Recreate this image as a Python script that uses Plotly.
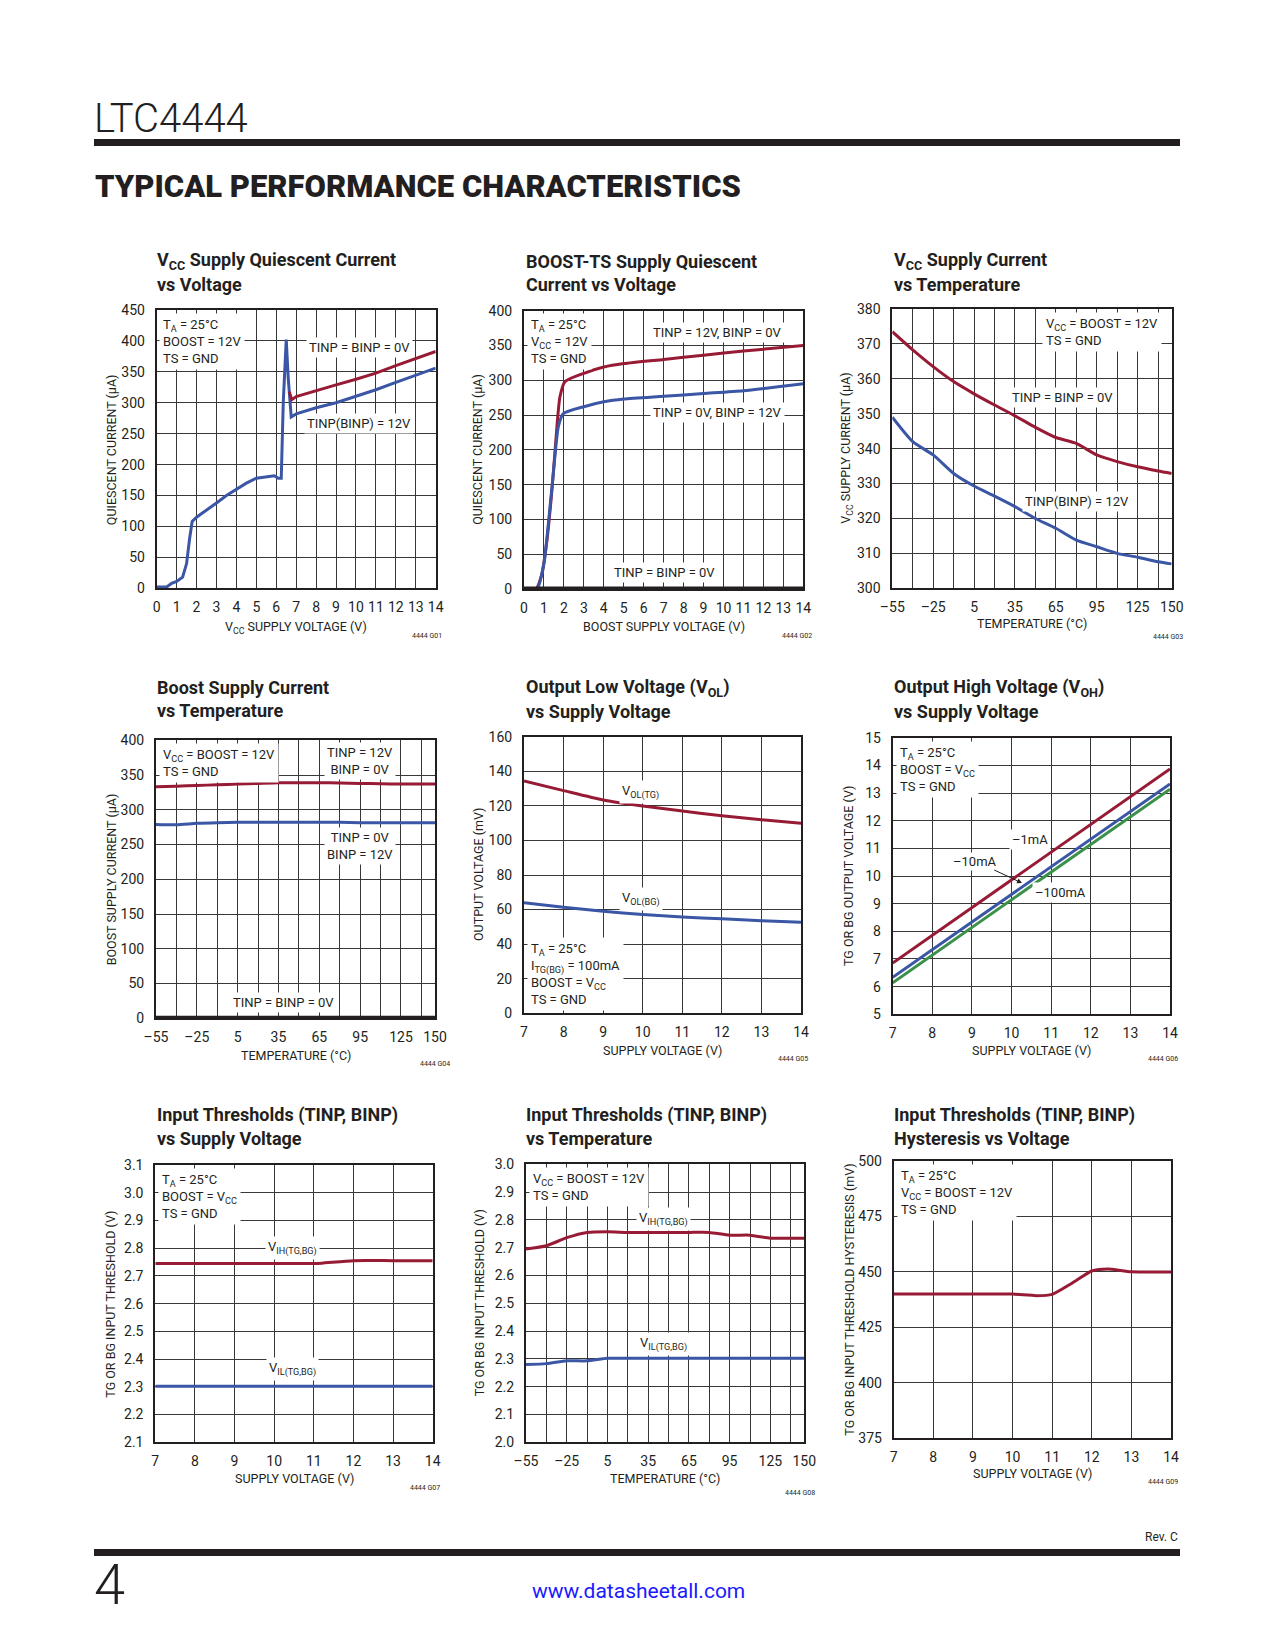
import plotly.graph_objects as go

W, H = 1275, 1650

# ---------------- data ----------------
# G01 VCC supply quiescent current vs voltage
g01_x_blue = [0, 0.5, 0.75, 1.0, 1.3, 1.5, 1.65, 1.78, 2.0, 2.5, 3.0, 3.5, 4.0, 4.5, 5.0, 5.5, 5.9, 6.1, 6.25, 6.35, 6.5, 6.6, 6.75, 7.0, 8.0, 9.0, 10.0, 11.0, 12.0, 13.0, 14.0]
g01_y_blue = [2, 2, 8, 11, 18, 40, 80, 108, 115, 126, 138, 150, 160, 170, 178, 180, 182, 178, 178, 300, 402, 340, 277, 282, 292, 300, 310, 321, 333, 344, 356]
g01_x_red = [6.65, 6.78, 7.0, 8.0, 9.0, 10.0, 11.0, 12.0, 13.0, 14.0]
g01_y_red = [318, 305, 310, 320, 329, 338, 348, 360, 371, 383]

# G02 BOOST-TS supply quiescent current vs voltage
g02_x_red = [0, 0.6, 0.9, 1.15, 1.4, 1.65, 1.8, 2.05, 3, 4, 5, 7, 9, 11, 14]
g02_y_red = [0, 0, 22, 70, 142, 233, 276, 298, 310, 319, 324, 330, 336, 342, 350]
g02_x_blue = [0, 0.65, 1.0, 1.22, 1.47, 1.72, 1.97, 3, 4, 5, 7, 9, 11, 14]
g02_y_blue = [0, 0, 37, 94, 166, 233, 252, 262, 269, 273, 277, 281, 285, 295]
g02_x_zero = [0, 14]
g02_y_zero = [0, 0]

# temperature axis
temp = [-55, -40, -25, -10, 5, 20, 35, 50, 65, 80, 95, 110, 125, 140, 150]
temp_ticks = [-55, -25, 5, 35, 65, 95, 125, 150]
temp_labels = ["–55", "–25", "5", "35", "65", "95", "125", "150"]

# G03 VCC supply current vs temperature
g03_red = [373.5, 368.3, 363.5, 359.2, 355.7, 352.5, 349.4, 346.1, 343.2, 341.5, 338.2, 336.3, 334.8, 333.6, 332.9]
g03_blue = [349, 342, 338.2, 332.9, 329.3, 326.4, 323.4, 320, 317.2, 313.8, 311.9, 310, 308.9, 307.6, 307]

# G04 Boost supply current vs temperature
g04_red = [333, 334, 335, 336, 337, 338, 339, 339, 339, 338.5, 338, 337.5, 337, 337, 337]
g04_blue = [279, 278.5, 280.5, 281.5, 282, 282, 282, 282, 282, 282, 281.5, 281.5, 281.5, 281.5, 281.5]
g04_zero = [0] * 15

# supply voltage axis
vs = [7, 8, 9, 10, 11, 12, 13, 14]

# G05 VOL vs supply voltage
g05_tg = [134.4, 128.8, 123.4, 119.9, 117.0, 114.3, 112.0, 109.9]
g05_bg = [64.0, 61.3, 59.0, 57.1, 55.7, 54.7, 53.6, 52.6]

# G06 VOH vs supply voltage
g06_1ma = [6.85, 7.85, 8.85, 9.85, 10.85, 11.85, 12.85, 13.87]
g06_10ma = [6.34, 7.34, 8.33, 9.33, 10.33, 11.33, 12.33, 13.33]
g06_100ma = [6.14, 7.14, 8.13, 9.13, 10.13, 11.13, 12.13, 13.14]

# G07 input thresholds vs supply voltage
g07_x_vih = [7, 8, 9, 10, 11, 11.2, 12, 13, 14]
g07_vih = [2.745, 2.745, 2.745, 2.745, 2.745, 2.746, 2.755, 2.755, 2.755]
g07_vil = [2.302, 2.302, 2.302, 2.302, 2.302, 2.302, 2.302, 2.302]

# G08 input thresholds vs temperature
g08_vih = [2.695, 2.707, 2.736, 2.755, 2.757, 2.755, 2.755, 2.755, 2.755, 2.755, 2.745, 2.745, 2.734, 2.734, 2.734]
g08_vil = [2.280, 2.283, 2.293, 2.293, 2.302, 2.302, 2.302, 2.302, 2.302, 2.302, 2.302, 2.302, 2.302, 2.302, 2.302]

# G09 hysteresis vs voltage
g09_x = [7, 8, 9, 10, 10.6, 11, 11.5, 12, 12.4, 13, 14]
g09_y = [440, 440, 440, 440, 439.3, 439.9, 444.9, 450.4, 451.3, 450.1, 450]

# tick values
v14_ticks = list(range(0, 15))
v7_ticks = [7, 8, 9, 10, 11, 12, 13, 14]
y01_ticks = [0, 50, 100, 150, 200, 250, 300, 350, 400, 450]
y02_ticks = [0, 50, 100, 150, 200, 250, 300, 350, 400]
y03_ticks = [300, 310, 320, 330, 340, 350, 360, 370, 380]
y05_ticks = [0, 20, 40, 60, 80, 100, 120, 140, 160]
y06_ticks = [5, 6, 7, 8, 9, 10, 11, 12, 13, 14, 15]
y07_ticks = [2.1, 2.2, 2.3, 2.4, 2.5, 2.6, 2.7, 2.8, 2.9, 3.0, 3.1]
y08_ticks = [2.0, 2.1, 2.2, 2.3, 2.4, 2.5, 2.6, 2.7, 2.8, 2.9, 3.0]
y09_ticks = [375, 400, 425, 450, 475, 500]

# ---------------- styling ----------------
FONT = "Roboto, Liberation Sans, sans-serif"
INK = "#231f20"
RED = "#981b36"
BLUE = "#3a56a5"
GREEN = "#3b9149"
GRID = "#383838"
LW = 3

fig = go.Figure()


def px_x(p):
    return p / W


def px_y(p):
    return 1 - p / H


panels = [
    dict(box=(156.7, 435.7, 310, 588.3), xr=[0, 14], xt=v14_ticks, xl=None, minor=None, yr=[0, 450], yt=y01_ticks, yfmt="{:g}"),
    dict(box=(524, 803.3, 310.7, 589), xr=[0, 14], xt=v14_ticks, xl=None, minor=None, yr=[0, 400], yt=y02_ticks, yfmt="{:g}"),
    dict(box=(892.3, 1171.7, 309, 588.3), xr=[-55, 150], xt=temp_ticks, xl=temp_labels, minor=temp, yr=[300, 380], yt=y03_ticks, yfmt="{:g}"),
    dict(box=(156, 435, 740.3, 1018.3), xr=[-55, 150], xt=temp_ticks, xl=temp_labels, minor=temp, yr=[0, 400], yt=y02_ticks, yfmt="{:g}"),
    dict(box=(524, 801, 736.7, 1013.3), xr=[7, 14], xt=v7_ticks, xl=None, minor=None, yr=[0, 160], yt=y05_ticks, yfmt="{:g}"),
    dict(box=(892.7, 1170, 737.7, 1014.3), xr=[7, 14], xt=v7_ticks, xl=None, minor=None, yr=[5, 15], yt=y06_ticks, yfmt="{:g}"),
    dict(box=(155.3, 432.7, 1165, 1442.3), xr=[7, 14], xt=v7_ticks, xl=None, minor=None, yr=[2.1, 3.1], yt=y07_ticks, yfmt="{:.1f}"),
    dict(box=(526, 804.3, 1164.3, 1442.3), xr=[-55, 150], xt=temp_ticks, xl=temp_labels, minor=temp, yr=[2.0, 3.0], yt=y08_ticks, yfmt="{:.1f}"),
    dict(box=(893.7, 1171, 1161, 1438.3), xr=[7, 14], xt=v7_ticks, xl=None, minor=None, yr=[375, 500], yt=y09_ticks, yfmt="{:g}"),
]

layout_axes = {}
for i, p in enumerate(panels, start=1):
    x0, x1, y0, y1 = p["box"]
    xn = "xaxis" if i == 1 else f"xaxis{i}"
    yn = "yaxis" if i == 1 else f"yaxis{i}"
    xl = p["xl"] if p["xl"] is not None else [f"{v:g}" for v in p["xt"]]
    common = dict(showline=True, mirror=True, linecolor=INK, linewidth=2,
                  showgrid=True, gridcolor=GRID, gridwidth=1.4, zeroline=False,
                  ticks="", tickfont=dict(family=FONT, size=14, color=INK),
                  fixedrange=True, automargin=False)
    xax = dict(domain=[px_x(x0), px_x(x1)], range=p["xr"], anchor=f"y{i}" if i > 1 else "y",
               tickmode="array", tickvals=p["xt"], ticktext=xl, ticklabelstandoff=5, **common)
    if p["minor"] is not None:
        xax["minor"] = dict(tickmode="array", tickvals=p["minor"], showgrid=True,
                            gridcolor=GRID, gridwidth=1.4, ticks="")
    layout_axes[xn] = xax
    layout_axes[yn] = dict(domain=[px_y(y1), px_y(y0)], range=p["yr"], anchor=f"x{i}" if i > 1 else "x",
                           tickmode="array", tickvals=p["yt"], ticktext=[p["yfmt"].format(v) for v in p["yt"]],
                           ticklabelstandoff=7, **common)
fig.update_layout(**layout_axes)


def add_line(i, x, y, color, width=LW, shape="linear"):
    fig.add_trace(go.Scatter(x=x, y=y, mode="lines",
                             line=dict(color=color, width=width, shape=shape, smoothing=0.6),
                             xaxis="x" if i == 1 else f"x{i}", yaxis="y" if i == 1 else f"y{i}",
                             hoverinfo="skip"))


add_line(1, g01_x_blue, g01_y_blue, BLUE)
add_line(1, g01_x_red, g01_y_red, RED)
add_line(2, g02_x_red, g02_y_red, RED, shape="spline")
add_line(2, g02_x_blue, g02_y_blue, BLUE, shape="spline")
add_line(2, g02_x_zero, g02_y_zero, INK, width=5)
add_line(3, temp, g03_red, RED, shape="spline")
add_line(3, temp, g03_blue, BLUE, shape="spline")
add_line(4, temp, g04_red, RED, shape="spline")
add_line(4, temp, g04_blue, BLUE, shape="spline")
add_line(4, temp, g04_zero, INK, width=5)
add_line(5, vs, g05_tg, RED, shape="spline")
add_line(5, vs, g05_bg, BLUE, shape="spline")
add_line(6, vs, g06_1ma, RED)
add_line(6, vs, g06_10ma, BLUE)
add_line(6, vs, g06_100ma, GREEN)
add_line(7, g07_x_vih, g07_vih, RED, shape="spline")
add_line(7, vs, g07_vil, BLUE)
add_line(8, temp, g08_vih, RED, shape="spline")
add_line(8, temp, g08_vil, BLUE, shape="spline")
add_line(9, g09_x, g09_y, RED, shape="spline")

ann = []


def text(px, py, s, size=13, xanchor="left", yanchor="middle", bg=None, bold=False,
         color=INK, angle=0, align="left", family=FONT, pad=2, weight=None):
    if bold:
        s = f"<b>{s}</b>"
    f = dict(family=family, size=size, color=color)
    if weight is not None:
        f["weight"] = weight
    d = dict(x=px_x(px), y=px_y(py), xref="paper", yref="paper", text=s, showarrow=False,
             xanchor=xanchor, yanchor=yanchor, align=align, textangle=angle,
             font=f, borderpad=pad)
    if bg:
        d["bgcolor"] = bg
    ann.append(d)


# header / footer
text(91, 118, "LTC4444", size=40, weight=300)
text(92, 187, "TYPICAL PERFORMANCE CHARACTERISTICS", size=31, weight=900)
text(1181, 1537, "Rev. C", size=12, xanchor="right")
text(91, 1585, "4", size=56, weight=300)
text(638, 1591, "www.datasheetall.com", size=21, xanchor="center", color="#1a1aff")

# chart titles
titles = [
    ("V<sub>CC</sub> Supply Quiescent Current", "vs Voltage"),
    ("BOOST-TS Supply Quiescent", "Current vs Voltage"),
    ("V<sub>CC</sub> Supply Current", "vs Temperature"),
    ("Boost Supply Current", "vs Temperature"),
    ("Output Low Voltage (V<sub>OL</sub>)", "vs Supply Voltage"),
    ("Output High Voltage (V<sub>OH</sub>)", "vs Supply Voltage"),
    ("Input Thresholds (TINP, BINP)", "vs Supply Voltage"),
    ("Input Thresholds (TINP, BINP)", "vs Temperature"),
    ("Input Thresholds (TINP, BINP)", "Hysteresis vs Voltage"),
]
title_pos = [(154, 261), (523, 261), (891, 261),
             (154, 687), (523, 688), (891, 688),
             (154, 1115), (523, 1115), (891, 1115)]
for (l1, l2), (tx, ty) in zip(titles, title_pos):
    text(tx, ty, l1, size=18, bold=True)
    text(tx, ty + 23, l2, size=18, bold=True)

# axis titles
ytitles = ["QUIESCENT CURRENT (µA)", "QUIESCENT CURRENT (µA)", "V<sub>CC</sub> SUPPLY CURRENT (µA)",
           "BOOST SUPPLY CURRENT (µA)", "OUTPUT VOLTAGE (mV)", "TG OR BG OUTPUT VOLTAGE (V)",
           "TG OR BG INPUT THRESHOLD (V)", "TG OR BG INPUT THRESHOLD (V)",
           "TG OR BG INPUT THRESHOLD HYSTERESIS (mV)"]
ytitle_x = [111, 478, 847, 111, 478, 848, 111, 479, 850]
xtitles = ["V<sub>CC</sub> SUPPLY VOLTAGE (V)", "BOOST SUPPLY VOLTAGE (V)", "TEMPERATURE (°C)",
           "TEMPERATURE (°C)", "SUPPLY VOLTAGE (V)", "SUPPLY VOLTAGE (V)",
           "SUPPLY VOLTAGE (V)", "TEMPERATURE (°C)", "SUPPLY VOLTAGE (V)"]
xtitle_y = [627, 626, 623, 1055, 1050, 1050, 1478, 1478, 1473]
codes_pos = [(427, 636), (797, 636), (1168, 637), (435, 1064), (793, 1059), (1163, 1059),
             (425, 1488), (800, 1493), (1163, 1482)]
for i, p in enumerate(panels):
    x0, x1, y0, y1 = p["box"]
    text(ytitle_x[i], (y0 + y1) / 2, ytitles[i], size=12.5, angle=-90, xanchor="center", yanchor="middle")
    text((x0 + x1) / 2, xtitle_y[i], xtitles[i], size=12.5, xanchor="center")
    cx, cy = codes_pos[i]
    text(cx, cy, f"4444 G0{i + 1}", size=7, xanchor="center")

W_BG = "white"
# condition boxes
text(159, 313, "T<sub>A</sub> = 25°C<br>BOOST = 12V<br>TS = GND", yanchor="top", bg=W_BG, pad=3)
text(527, 313, "T<sub>A</sub> = 25°C<br>V<sub>CC</sub> = 12V<br>TS = GND", yanchor="top", bg=W_BG, pad=3)
text(1042, 312, "V<sub>CC</sub> = BOOST = 12V<br>TS = GND", yanchor="top", bg=W_BG, pad=3)
text(159, 743, "V<sub>CC</sub> = BOOST = 12V<br>TS = GND", yanchor="top", bg=W_BG, pad=3)
text(527, 1011, "T<sub>A</sub> = 25°C<br>I<sub>TG(BG)</sub> = 100mA<br>BOOST = V<sub>CC</sub><br>TS = GND",
     yanchor="bottom", bg=W_BG, pad=3)
text(896, 741, "T<sub>A</sub> = 25°C<br>BOOST = V<sub>CC</sub><br>TS = GND", yanchor="top", bg=W_BG, pad=3)
text(158, 1168, "T<sub>A</sub> = 25°C<br>BOOST = V<sub>CC</sub><br>TS = GND", yanchor="top", bg=W_BG, pad=3)
text(529, 1167, "V<sub>CC</sub> = BOOST = 12V<br>TS = GND", yanchor="top", bg=W_BG, pad=3)
text(897, 1164, "T<sub>A</sub> = 25°C<br>V<sub>CC</sub> = BOOST = 12V<br>TS = GND", yanchor="top", bg=W_BG, pad=3)

# curve labels
text(359, 347, "TINP = BINP = 0V", xanchor="center", bg=W_BG)
text(359, 423, "TINP(BINP) = 12V", xanchor="center", bg=W_BG)
text(717, 333, "TINP = 12V, BINP = 0V", xanchor="center", bg=W_BG)
text(717, 413, "TINP = 0V, BINP = 12V", xanchor="center", bg=W_BG)
text(664, 572, "TINP = BINP = 0V", xanchor="center", bg=W_BG)
text(1062, 397, "TINP = BINP = 0V", xanchor="center", bg=W_BG)
text(1077, 501, "TINP(BINP) = 12V", xanchor="center", bg=W_BG)
text(360, 761, "TINP = 12V<br>BINP = 0V", xanchor="center", align="center", bg=W_BG)
text(360, 846, "TINP = 0V<br>BINP = 12V", xanchor="center", align="center", bg=W_BG)
text(283, 1002, "TINP = BINP = 0V", xanchor="center", bg=W_BG)
text(619, 792, "V<sub>OL(TG)</sub>", bg=W_BG)
text(619, 899, "V<sub>OL(BG)</sub>", bg=W_BG)
text(1030, 839, "–1mA", xanchor="center", bg=W_BG)
text(1060, 892, "–100mA", xanchor="center", bg=W_BG)
text(292, 1248, "V<sub>IH(TG,BG)</sub>", xanchor="center", bg=W_BG)
text(292, 1369, "V<sub>IL(TG,BG)</sub>", xanchor="center", bg=W_BG)
text(663, 1219, "V<sub>IH(TG,BG)</sub>", xanchor="center", bg=W_BG)
text(663, 1344, "V<sub>IL(TG,BG)</sub>", xanchor="center", bg=W_BG)

# arrow label for -10mA
ann.append(dict(x=px_x(1022), y=px_y(883), xref="paper", yref="paper", text="–10mA",
                showarrow=True, ax=-47, ay=-22, arrowhead=2, arrowsize=1, arrowwidth=1,
                arrowcolor=INK, font=dict(family=FONT, size=13, color=INK), bgcolor=W_BG, borderpad=1))

shapes = [
    dict(type="rect", xref="paper", yref="paper", x0=px_x(94), x1=px_x(1180), y0=px_y(146), y1=px_y(139),
         fillcolor=INK, line=dict(width=0)),
    dict(type="rect", xref="paper", yref="paper", x0=px_x(94), x1=px_x(1180), y0=px_y(1556), y1=px_y(1549),
         fillcolor=INK, line=dict(width=0)),
]

fig.update_layout(width=W, height=H,
                  margin=dict(l=0, r=0, t=0, b=0, pad=0, autoexpand=False),
                  paper_bgcolor="white", plot_bgcolor="white", showlegend=False,
                  annotations=ann, shapes=shapes, font=dict(family=FONT, color=INK))

fig.write_html("out.html", config={"displayModeBar": False},
               post_script="document.body.style.margin='0px';document.body.style.overflow='hidden';")
